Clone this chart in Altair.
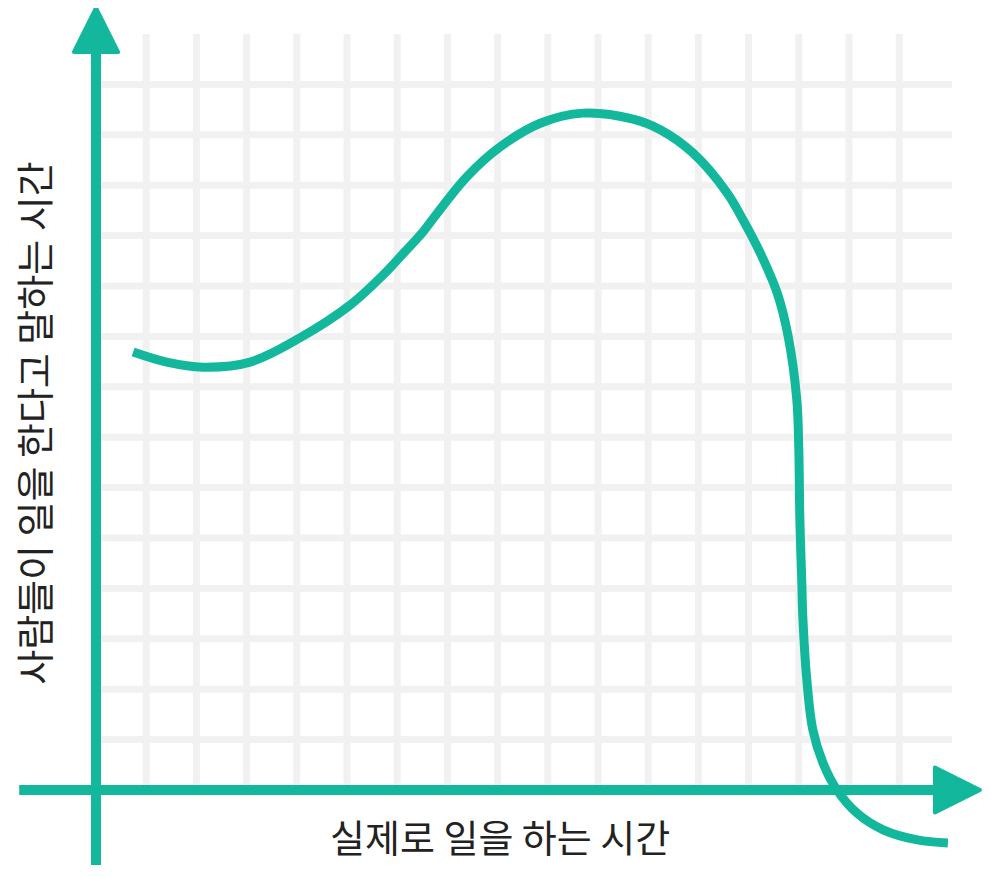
import altair as alt
import pandas as pd

# Curve (grid units: x from the vertical axis, y from the horizontal axis)
curve_x = [0.74, 1.41, 2.13, 3.07, 4.06, 5.06, 5.72, 6.06, 6.51, 6.71, 7.39, 8.05, 8.85, 9.70,
           10.70, 11.24, 11.89, 12.57, 12.89, 13.23, 13.57, 13.79, 13.96, 14.00, 14.02, 14.06,
           14.08, 14.16, 14.28, 14.48, 14.76, 15.16, 15.68, 16.36, 16.97]
curve_y = [8.69, 8.49, 8.39, 8.49, 8.97, 9.62, 10.22, 10.58, 11.07, 11.33, 12.17, 12.76, 13.23, 13.43,
           13.31, 13.10, 12.64, 11.85, 11.31, 10.66, 9.86, 8.99, 7.74, 6.75, 5.42, 4.11,
           3.43, 2.18, 1.19, 0.54, 0.00, -0.46, -0.79, -0.99, -1.05]

grid_x = list(range(1, 17))   # vertical grid lines
grid_y = list(range(1, 15))   # horizontal grid lines
grid_top = 15
grid_right = 17.05

x_label = "실제로 일을 하는 시간"
y_label = "사람들이 일을 한다고 말하는 시간"

TEAL = "#13b89c"
GRID = "#f1f1f1"

xs = alt.Scale(domain=[-1.753, 17.669], nice=False, zero=False)
ys = alt.Scale(domain=[-1.548, 15.516], nice=False, zero=False)

vdf = pd.DataFrame({"x": grid_x, "y0": 0, "y1": grid_top})
hdf = pd.DataFrame({"y": grid_y, "x0": 0, "x1": grid_right})

vgrid = alt.Chart(vdf).mark_rule(color=GRID, strokeWidth=7).encode(
    x=alt.X("x:Q", scale=xs, axis=None),
    y=alt.Y("y0:Q", scale=ys, axis=None),
    y2="y1:Q",
)
hgrid = alt.Chart(hdf).mark_rule(color=GRID, strokeWidth=7).encode(
    y=alt.Y("y:Q", scale=ys, axis=None),
    x=alt.X("x0:Q", scale=xs, axis=None),
    x2="x1:Q",
)

axes_df = pd.DataFrame({
    "x": [0, -1.53], "x2": [0, 16.8],
    "y": [-1.49, 0], "y2": [14.7, 0],
})
axes = alt.Chart(axes_df).mark_rule(color=TEAL, strokeWidth=10).encode(
    x=alt.X("x:Q", scale=xs, axis=None), x2="x2:Q",
    y=alt.Y("y:Q", scale=ys, axis=None), y2="y2:Q",
)

up_arrow = alt.Chart(pd.DataFrame({"x": [0], "y": [15.08]})).mark_point(
    shape="M0,-1L1,1L-1,1Z", size=44 * 44, filled=True, opacity=1,
    color=TEAL, stroke=TEAL, strokeWidth=4, strokeJoin="round",
).encode(x=alt.X("x:Q", scale=xs, axis=None), y=alt.Y("y:Q", scale=ys, axis=None))

right_arrow = alt.Chart(pd.DataFrame({"x": [17.16], "y": [0]})).mark_point(
    shape="M1,0L-1,-1L-1,1Z", size=45 * 45, filled=True, opacity=1,
    color=TEAL, stroke=TEAL, strokeWidth=4, strokeJoin="round",
).encode(x=alt.X("x:Q", scale=xs, axis=None), y=alt.Y("y:Q", scale=ys, axis=None))

cdf = pd.DataFrame({"x": curve_x, "y": curve_y, "o": list(range(len(curve_x)))})
curve = alt.Chart(cdf).mark_line(color=TEAL, strokeWidth=9, interpolate="catmull-rom").encode(
    x=alt.X("x:Q", scale=xs, axis=None),
    y=alt.Y("y:Q", scale=ys, axis=None),
    order="o:Q",
)

xt = alt.Chart(pd.DataFrame({"x": [8.05], "y": [-1.01], "t": [x_label]})).mark_text(
    font="Noto Sans CJK KR", fontSize=38, color="#222222", align="center", baseline="middle",
).encode(x=alt.X("x:Q", scale=xs, axis=None), y=alt.Y("y:Q", scale=ys, axis=None), text="t:N")

yt = alt.Chart(pd.DataFrame({"x": [-1.15], "y": [7.28], "t": [y_label]})).mark_text(
    font="Noto Sans CJK KR", fontSize=38, color="#222222", align="center", baseline="middle", angle=270,
).encode(x=alt.X("x:Q", scale=xs, axis=None), y=alt.Y("y:Q", scale=ys, axis=None), text="t:N")

chart = alt.layer(vgrid, hgrid, axes, up_arrow, right_arrow, curve, xt, yt).properties(
    width=975, height=860, autosize=alt.AutoSizeParams(type="none"), padding=0,
).configure_view(stroke=None)

chart.save("out.html", embed_options={"renderer": "svg", "actions": False})
